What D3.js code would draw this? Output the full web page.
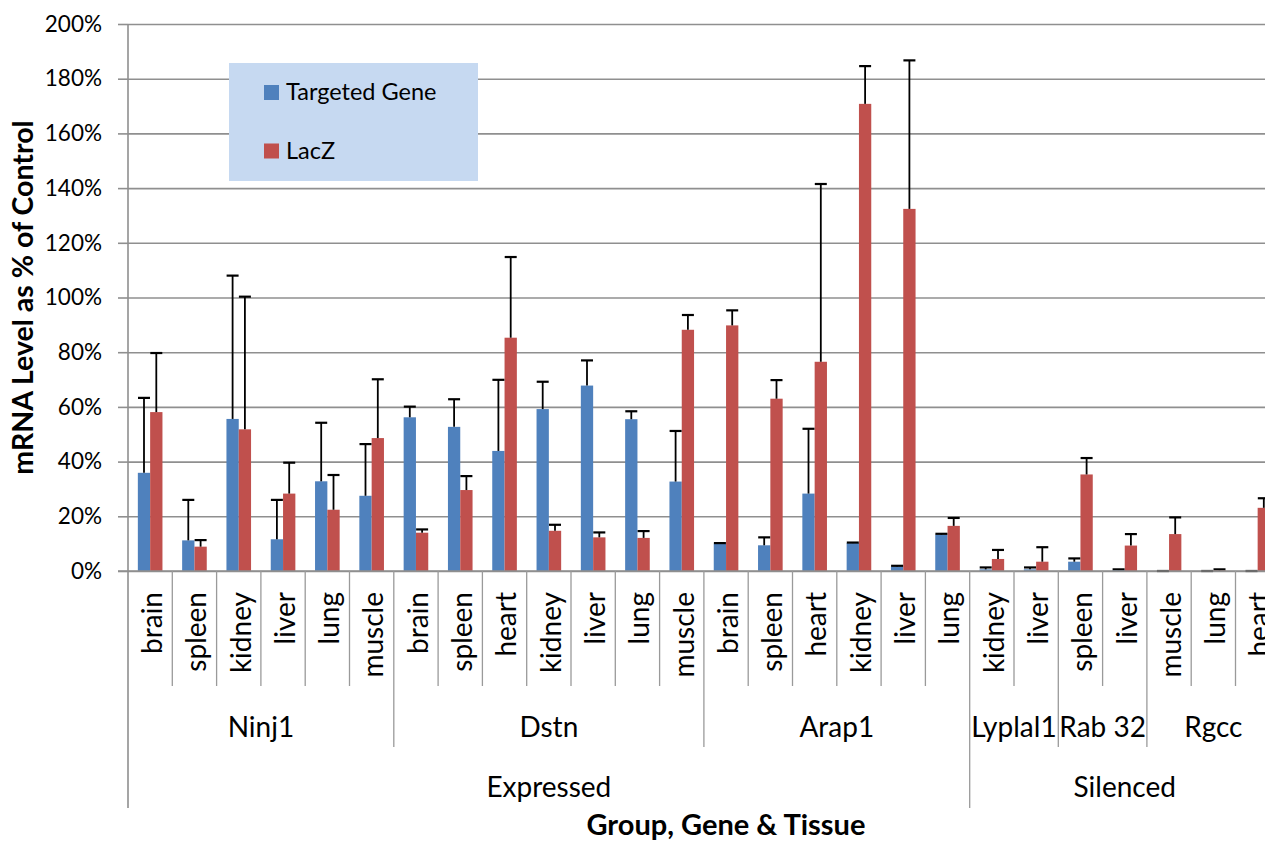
<!DOCTYPE html>
<html>
<head>
<meta charset="utf-8">
<script src="https://cdn.jsdelivr.net/npm/d3@7"></script>
<style>
  body { margin: 0; background: #fff; overflow: hidden; }
  svg { display: block; }
  text { font-family: Lato, "Open Sans", sans-serif; fill: #000; }
</style>
</head>
<body>
<svg id="chart" width="1265" height="842"></svg>
<script>
// Tissue sampled for each pair of bars, with the gene and group it belongs to
const tissues = ["brain","spleen","kidney","liver","lung","muscle",
                 "brain","spleen","heart","kidney","liver","lung","muscle",
                 "brain","spleen","heart","kidney","liver","lung",
                 "kidney","liver",
                 "spleen","liver",
                 "muscle","lung","heart"];
const genes = ["Ninj1","Ninj1","Ninj1","Ninj1","Ninj1","Ninj1",
               "Dstn","Dstn","Dstn","Dstn","Dstn","Dstn","Dstn",
               "Arap1","Arap1","Arap1","Arap1","Arap1","Arap1",
               "Lyplal1","Lyplal1",
               "Rab 32","Rab 32",
               "Rgcc","Rgcc","Rgcc"];
const groups = ["Expressed","Expressed","Expressed","Expressed","Expressed","Expressed",
                "Expressed","Expressed","Expressed","Expressed","Expressed","Expressed","Expressed",
                "Expressed","Expressed","Expressed","Expressed","Expressed","Expressed",
                "Silenced","Silenced","Silenced","Silenced","Silenced","Silenced","Silenced"];

// mRNA level (% of control) and upper error
const targeted    = [35.9, 11.2, 55.6, 11.6, 32.8, 27.5, 56.2, 52.7, 43.9, 59.2, 67.8, 55.5, 32.7,
                     10.0, 9.4, 28.3, 10.2, 1.6, 13.3, 0.6, 0.6, 3.4, 0.3, 0, 0, 0];
const targetedErr = [27.4, 14.8, 52.4, 14.4, 21.4, 18.9, 3.9, 10.1, 26.0, 10.0, 9.2, 2.9, 18.5,
                     0.2, 2.9, 23.7, 0.2, 0.3, 0.3, 0.7, 0.7, 1.2, 0.3, 0, 0, 0];
const lacZ        = [58.1, 8.9, 51.8, 28.3, 22.4, 48.6, 14.0, 29.6, 85.3, 14.7, 12.3, 12.1, 88.2,
                     89.8, 63.0, 76.5, 170.8, 132.4, 16.5, 4.4, 3.4, 35.3, 9.3, 13.5, 0.2, 23.1];
const lacZErr     = [21.6, 2.4, 48.5, 11.3, 12.7, 21.5, 1.2, 5.1, 29.5, 2.2, 1.8, 2.5, 5.4,
                     5.5, 6.8, 65.0, 13.8, 54.3, 2.9, 3.3, 5.3, 6.0, 4.2, 6.1, 0.4, 3.5];

const seriesNames = ["Targeted Gene", "LacZ"];
const seriesColors = ["#4f81bd", "#c0504d"];
const yTicks = [0, 20, 40, 60, 80, 100, 120, 140, 160, 180, 200];

(function draw() {
  const svg = d3.select("#chart");

  const plotLeft = 128, plotTop = 24, plotBottom = 571;
  const step = 44.3;
  const plotRight = plotLeft + step * tissues.length;

  const x = d3.scaleBand().domain(d3.range(tissues.length)).range([plotLeft, plotRight]).padding(0);
  const x1 = d3.scaleBand().domain([0, 1]).range([0, x.bandwidth()]).paddingInner(0).paddingOuter(0.8);
  const y = d3.scaleLinear().domain([0, 200]).range([plotBottom, plotTop]);

  // horizontal gridlines
  svg.append("g")
    .attr("transform", `translate(${plotLeft},0)`)
    .call(d3.axisLeft(y).tickValues(yTicks).tickSize(-(plotRight - plotLeft)).tickFormat(""))
    .call(g => g.select(".domain").remove())
    .call(g => g.selectAll("line").attr("stroke", "#8f8f8f").attr("stroke-width", 1.6));

  // value axis with outside ticks
  svg.append("g")
    .attr("transform", `translate(${plotLeft},0)`)
    .call(d3.axisLeft(y).tickValues(yTicks).tickSize(10).tickPadding(16).tickFormat(d => d + "%"))
    .call(g => g.select(".domain").remove())
    .call(g => g.selectAll("line").attr("stroke", "#8f8f8f").attr("stroke-width", 1.6))
    .call(g => g.selectAll("text").attr("font-size", 22.5).attr("font-family", "Lato").attr("fill", "#000"));

  // legend
  const legend = svg.append("g");
  legend.append("rect").attr("x", 229).attr("y", 63).attr("width", 249).attr("height", 118).attr("fill", "#c6d9f1");
  seriesNames.forEach((name, i) => {
    const by = 100 + i * 58.5;
    legend.append("rect").attr("x", 264).attr("y", by - 15).attr("width", 15).attr("height", 15).attr("fill", seriesColors[i]);
    legend.append("text").attr("x", 286).attr("y", by).attr("font-size", 23.5).text(name);
  });

  // bars
  const series = [
    { values: targeted, errs: targetedErr },
    { values: lacZ, errs: lacZErr }
  ];
  series.forEach((s, si) => {
    svg.append("g").selectAll("rect").data(s.values).join("rect")
      .attr("x", (d, i) => x(i) + x1(si))
      .attr("y", d => y(d))
      .attr("width", x1.bandwidth())
      .attr("height", d => y(0) - y(d))
      .attr("fill", seriesColors[si]);
  });

  // upper error bars
  series.forEach((s, si) => {
    const g = svg.append("g").attr("stroke", "#000").attr("stroke-width", 1.8);
    s.values.forEach((v, i) => {
      const cx = x(i) + x1(si) + x1.bandwidth() / 2;
      const y0 = y(v), y1 = y(v + s.errs[i]);
      g.append("line").attr("x1", cx).attr("x2", cx).attr("y1", y0).attr("y2", y1);
      g.append("line").attr("x1", cx - 6).attr("x2", cx + 6).attr("y1", y1).attr("y2", y1).attr("stroke-width", 2.2);
    });
  });

  // category axis line
  svg.append("line").attr("x1", plotLeft - 10).attr("x2", plotRight).attr("y1", plotBottom).attr("y2", plotBottom)
    .attr("stroke", "#8f8f8f").attr("stroke-width", 1.6);

  // value axis line (extends down past the group labels)
  svg.append("line").attr("x1", plotLeft).attr("x2", plotLeft).attr("y1", plotTop).attr("y2", 808)
    .attr("stroke", "#8f8f8f").attr("stroke-width", 1.6);

  // runs of consecutive equal labels
  function runs(arr) {
    const out = [];
    arr.forEach((v, i) => {
      if (out.length && out[out.length - 1].name === v) out[out.length - 1].end = i;
      else out.push({ name: v, start: i, end: i });
    });
    return out;
  }
  const geneRuns = runs(genes);
  const groupRuns = runs(groups);

  const sep = svg.append("g").attr("stroke", "#9a9a9a").attr("stroke-width", 1.3);
  // tissue separators
  tissues.forEach((t, i) => {
    if (i === 0) return;
    sep.append("line").attr("x1", x(i)).attr("x2", x(i)).attr("y1", plotBottom).attr("y2", 686);
  });
  // gene separators
  geneRuns.forEach(r => {
    if (r.start === 0) return;
    sep.append("line").attr("x1", x(r.start)).attr("x2", x(r.start)).attr("y1", 686).attr("y2", 747);
  });
  // group separators
  groupRuns.forEach(r => {
    if (r.start === 0) return;
    sep.append("line").attr("x1", x(r.start)).attr("x2", x(r.start)).attr("y1", 747).attr("y2", 808);
  });

  // tissue labels
  svg.append("g").selectAll("text").data(tissues).join("text")
    .attr("transform", (d, i) => `translate(${x(i) + x.bandwidth() / 2},592) rotate(-90)`)
    .attr("text-anchor", "end")
    .attr("dy", "0.42em")
    .attr("font-size", 28)
    .text(d => d);

  // gene labels
  svg.append("g").selectAll("text").data(geneRuns).join("text")
    .attr("x", r => (x(r.start) + x(r.end) + x.bandwidth()) / 2)
    .attr("y", 737)
    .attr("text-anchor", "middle")
    .attr("font-size", 28)
    .text(r => r.name);

  // group labels
  svg.append("g").selectAll("text").data(groupRuns).join("text")
    .attr("x", r => (x(r.start) + x(r.end) + x.bandwidth()) / 2)
    .attr("y", 797)
    .attr("text-anchor", "middle")
    .attr("font-size", 28)
    .text(r => r.name);

  // axis titles
  svg.append("text")
    .attr("x", 726).attr("y", 835)
    .attr("text-anchor", "middle")
    .attr("font-size", 29).attr("font-weight", "bold")
    .text("Group, Gene & Tissue");

  svg.append("text")
    .attr("transform", "translate(33,297.5) rotate(-90)")
    .attr("text-anchor", "middle")
    .attr("font-size", 28.5).attr("font-weight", "bold")
    .text("mRNA Level as % of Control");
})();
</script>
</body>
</html>
